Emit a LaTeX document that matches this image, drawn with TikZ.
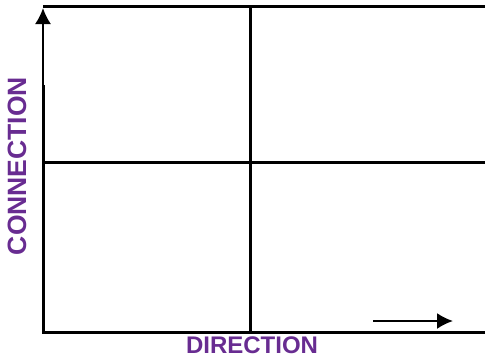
\documentclass[tikz,border=0pt]{standalone}
\usepackage{fontspec}
\setmainfont{Liberation Sans}
\usetikzlibrary{arrows.meta}
\definecolor{axispurple}{RGB}{104,44,145}
\tikzset{
  gridline/.style={line width=3pt, black},
  axislabel/.style={text=axispurple, font=\bfseries\fontsize{24}{28}\selectfont, inner sep=0pt},
  axisarrow/.style={line width=2pt, black, -{Latex[length=16pt,width=16pt]}}
}
\begin{document}
\begin{tikzpicture}[x=1pt,y=-1pt]
\useasboundingbox (0,0) rectangle (485,360);

% grid of four boxes
\draw [gridline] (43,6) -- (485,6);
\draw [gridline] (43,332) -- (485,332);
\draw [gridline] (43,162) -- (485,162);
\draw [gridline] (250,6) -- (250,332);
\draw [gridline] (43,333.5) -- (43,85);

% arrows
\draw [axisarrow] (43,86) -- (43,8);
\draw [axisarrow] (373,321) -- (453,321);

\node[axislabel] (direction) at (252,345) {DIRECTION};
\node[axislabel, font=\bfseries\fontsize{26.5}{30}\selectfont, rotate=90] (connection) at (17,166) {CONNECTION};

\end{tikzpicture}
\end{document}
